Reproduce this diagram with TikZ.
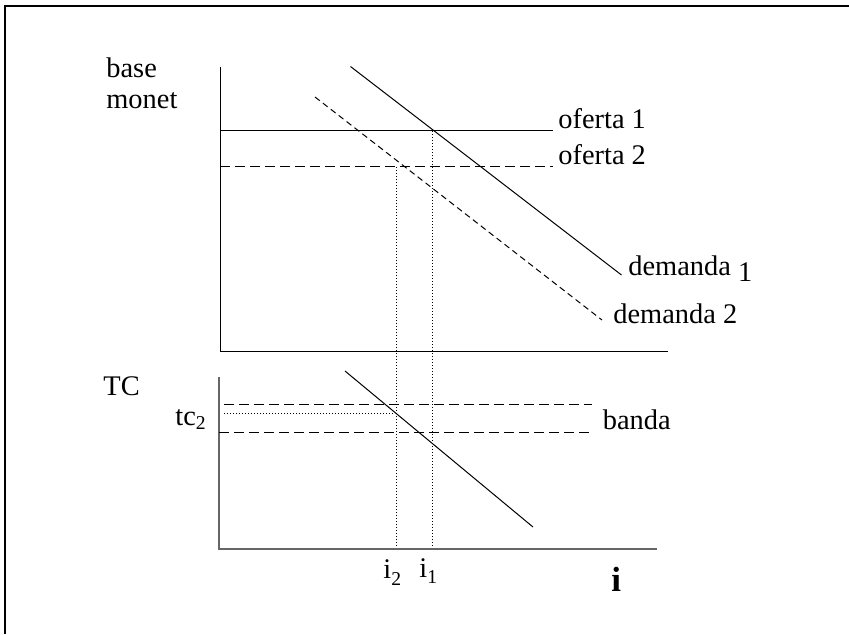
\documentclass[tikz,border=0pt]{standalone}
\usepackage{fontspec}
\setmainfont{Liberation Serif}
\begin{document}
\begin{tikzpicture}[x=0.5pt,y=-0.5pt,
  lbl/.style={anchor=base west,inner sep=0pt,font=\fontsize{14.2}{17}\selectfont},
  axis/.style={line width=0.5pt,black},
  axisgray/.style={line width=0.75pt,black!60},
  curve/.style={line width=0.5pt,black},
  bandline/.style={line width=0.5pt,dash pattern=on 5pt off 2.5pt},
  shifted/.style={line width=0.5pt,dash pattern=on 3pt off 2pt},
  guide/.style={line width=0.5pt,dash pattern=on 0.5pt off 1pt}]
\useasboundingbox (0,0) rectangle (849,634);

% outer frame (top and left edges)
\draw[line width=1.25pt] (5,634) -- (5,6) -- (849,6);

% ---------- upper panel: monetary base ----------
\coordinate (uo) at (220,351);
\coordinate (uy) at (220,67);
\coordinate (ux) at (668,351);
\draw[axis] (uy) -- (uo) -- (ux);

\coordinate (s1a) at (220,130.5);
\coordinate (s1b) at (553,130.5);
\coordinate (s2a) at (220,166.5);
\coordinate (s2b) at (553,166.5);
\draw[curve] (s1a) -- (s1b);
\draw[bandline] (s2a) -- (s2b);

\coordinate (d1a) at (350.5,66.5);
\coordinate (d1b) at (621.5,275);
\coordinate (d2a) at (315,97);
\coordinate (d2b) at (602,320);
\draw[curve] (d1a) -- (d1b);
\draw[shifted] (d2a) -- (d2b);

\node[lbl] (base)  at (106,77)  {base};
\node[lbl] (monet) at (106,108) {monet};
\node[lbl] (of1) at (558,128.5) {oferta 1};
\node[lbl] (of2) at (558,164) {oferta 2};
\node[lbl] (dm1) at (628,275) {demanda \raisebox{-3pt}{1}};
\node[lbl] (dm2) at (613,323.5) {demanda 2};

% ---------- lower panel: exchange rate ----------
\coordinate (lo) at (219,549);
\coordinate (ly) at (219,377);
\coordinate (lx) at (657,549);
\draw[axisgray] (ly) -- (lo) -- (lx);

\coordinate (bua) at (224,404.5);
\coordinate (bub) at (592,404.5);
\coordinate (bla) at (219,432);
\coordinate (blb) at (592,432);
\draw[bandline] (bua) -- (bub);
\draw[bandline] (bla) -- (blb);

\coordinate (tca) at (345,371);
\coordinate (tcb) at (533,527);
\draw[curve] (tca) -- (tcb);

% tc2 level and the two interest-rate guides
\coordinate (t2a) at (224,413.5);
\coordinate (t2b) at (394,413.5);
\draw[guide] (t2a) -- (t2b);

\coordinate (g2top) at (396,167);
\coordinate (g2bot) at (396,548);
\coordinate (g1top) at (432.5,131);
\coordinate (g1bot) at (432.5,548);
\draw[guide] (g2top) -- (g2bot);
\draw[guide] (g1top) -- (g1bot);

\node[lbl] (tc)  at (103,395) {TC};
\node[lbl] (tc2) at (175,425.5) {tc\raisebox{-2pt}{\fontsize{9.8}{10}\selectfont 2}};
\node[lbl] (banda) at (602.5,429.5) {banda};
\node[lbl] (i2) at (383,578) {i\raisebox{-3.5pt}{\fontsize{9.8}{10}\selectfont 2}};
\node[lbl] (i1) at (419,577) {i\raisebox{-3.3pt}{\fontsize{9.8}{10}\selectfont 1}};
\node[lbl,font=\fontsize{17.5}{20}\selectfont\bfseries] (iax) at (611,591.5) {i};
\end{tikzpicture}
\end{document}
